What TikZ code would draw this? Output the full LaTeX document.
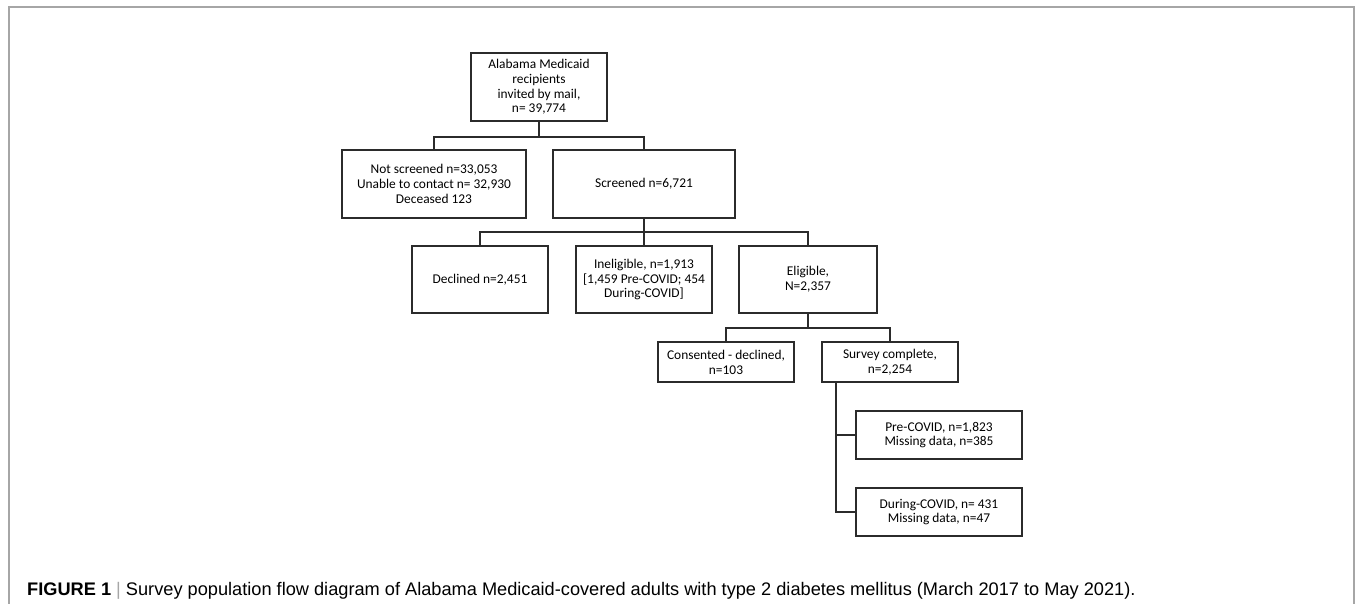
\documentclass[tikz,border=0pt]{standalone}
\usepackage{fontspec}
\setmainfont{Carlito}
\newfontfamily\capfont{Liberation Sans}

\begin{document}
\begin{tikzpicture}[x=1pt, y=-1pt, font=\fontsize{13.4}{14.8}\selectfont]
  \definecolor{ln}{HTML}{2B2B2B}
  \definecolor{fr}{HTML}{A6A6A6}
  \tikzset{
    stage/.style={draw=ln, line width=1.4pt, align=center, inner sep=1pt, outer sep=0pt},
    link/.style={draw=ln, line width=1.4pt}
  }
  \useasboundingbox (0, 0) rectangle (1357, 604);
  \draw [fr, line width=1.5pt] (9, 604) -- (9, 7) -- (1354, 7) -- (1354, 604);

  \node (top) at (539, 87) [stage, minimum width=136pt, minimum height=68pt] {Alabama Medicaid\\recipients\\invited by mail,\\n= 39,774};
  \node (ns) at (434, 184) [stage, minimum width=184pt, minimum height=68pt] {Not screened n=33,053\\Unable to contact n= 32,930\\Deceased 123};
  \node (scr) at (644, 184) [stage, minimum width=182pt, minimum height=68pt] {Screened n=6,721};
  \node (dec) at (480, 279.5) [stage, minimum width=136pt, minimum height=67pt] {Declined n=2,451};
  \node (inel) at (644, 279.5) [stage, minimum width=136pt, minimum height=67pt] {Ineligible, n=1,913\\{[}1,459 Pre-COVID; 454\\During-COVID]};
  \node (elig) at (808, 279.5) [stage, minimum width=138pt, minimum height=67pt] {Eligible,\\N=2,357};
  \node (cons) at (726, 362) [stage, minimum width=136pt, minimum height=40pt] {Consented - declined,\\n=103};
  \node (surv) at (890, 362) [stage, minimum width=136pt, minimum height=40pt] {Survey complete,\\n=2,254};
  \node (pre) at (939, 435) [stage, minimum width=166pt, minimum height=48pt] {Pre-COVID, n=1,823\\Missing data, n=385};
  \node (dur) at (939, 512) [stage, minimum width=166pt, minimum height=48pt] {During-COVID, n= 431\\Missing data, n=47};

  \draw [link] (ns.north) -- ++(0, -13) -| (scr.north) (top.south) -- ++(0, 16);
  \draw [link] (dec.north) -- ++(0, -14) -| (elig.north) (inel.north) -- (scr.south);
  \draw [link] (cons.north) -- ++(0, -14) -| (surv.north) (elig.south) -- ++(0, 15);
  \draw [link] ([xshift=14pt] surv.south west) |- (pre.west)
               ([xshift=14pt] surv.south west) |- (dur.west);

  \node (cap) at (27, 595) [anchor=base west, inner sep=0pt, font=\capfont\fontsize{18.2}{20}\selectfont]
      {\textbf{FIGURE 1} {\color{fr}|} Survey population flow diagram of Alabama Medicaid-covered adults with type 2 diabetes mellitus (March 2017 to May 2021).};
\end{tikzpicture}
\end{document}
